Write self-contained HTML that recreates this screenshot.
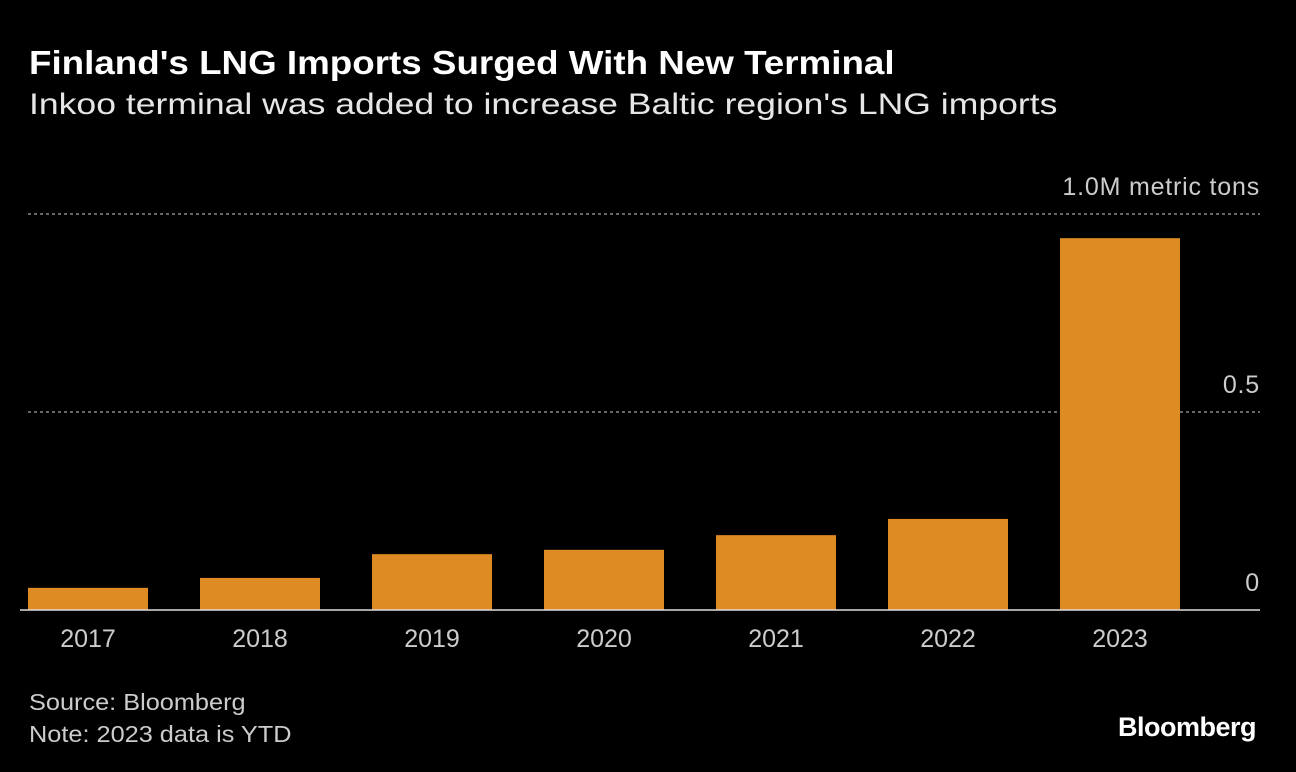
<!DOCTYPE html>
<html><head><meta charset="utf-8">
<style>
body{margin:0;background:#000;width:1296px;height:772px;overflow:hidden;font-family:"Liberation Sans",sans-serif;color:#fff}
#title{position:absolute;left:29px;top:44px;font-size:33px;font-weight:bold;margin:0;transform-origin:0 0;transform:scaleX(1.114);white-space:nowrap}
#subtitle{position:absolute;left:29px;top:88px;font-size:30px;color:#e6e6e6;transform-origin:0 0;transform:scaleX(1.185);white-space:nowrap}
#src{position:absolute;left:29px;top:686px;font-size:23px;color:#ccc;line-height:32px;transform-origin:0 0;transform:scaleX(1.1);white-space:nowrap}
#logo{position:absolute;right:40px;top:712px;font-size:27px;font-weight:bold;letter-spacing:-0.5px}
svg{position:absolute;left:0;top:0}
</style></head><body>
<h1 id="title">Finland's LNG Imports Surged With New Terminal</h1>
<div id="subtitle">Inkoo terminal was added to increase Baltic region's LNG imports</div>
<svg id="chart" width="1296" height="772"></svg>
<div id="src">Source: Bloomberg<br>Note: 2023 data is YTD</div>
<div id="logo">Bloomberg</div>
<script>
const categories=["2017","2018","2019","2020","2021","2022","2023"];
const values=[0.056,0.081,0.141,0.152,0.189,0.23,0.939];
const tickValues=[0,0.5,1.0];
const tickLabels=["0","0.5","1.0M metric tons"];
const svg=document.getElementById('chart');
const NS="http://www.w3.org/2000/svg";
const y0=610,y1=214,xL=28,step=172,bw=120;
const y=v=>y0-(y0-y1)*v;
const x=i=>xL+i*step;
function mk(t,a){const e=document.createElementNS(NS,t);for(const k in a)e.setAttribute(k,a[k]);svg.appendChild(e);return e;}
tickValues.forEach((v,i)=>{
  if(v>0){const l=mk('line',{x1:28,x2:1260,y1:y(v),y2:y(v),stroke:'#888','stroke-dasharray':'3,3','stroke-width':1.5});
  
  }
  const t=mk('text',{x:1260,y:y(v)-19,'text-anchor':'end',fill:'#ccc','font-size':25,'font-family':'Liberation Sans, sans-serif','letter-spacing':'0.8'});
  t.textContent=tickLabels[i];
  
  
});
values.forEach((v,i)=>{
  const r=mk('rect',{x:x(i),y:y(v),width:bw,height:y0-y(v),fill:'#de8b24'});
  
  
  const t=mk('text',{x:x(i)+bw/2,y:647,'text-anchor':'middle',fill:'#ccc','font-size':25,'font-family':'Liberation Sans, sans-serif'});
  t.textContent=categories[i];
  
  
});
const base=mk('line',{x1:20,x2:1260,y1:y0,y2:y0,stroke:'#ddd','stroke-width':1.5});


</script>
</body></html>
